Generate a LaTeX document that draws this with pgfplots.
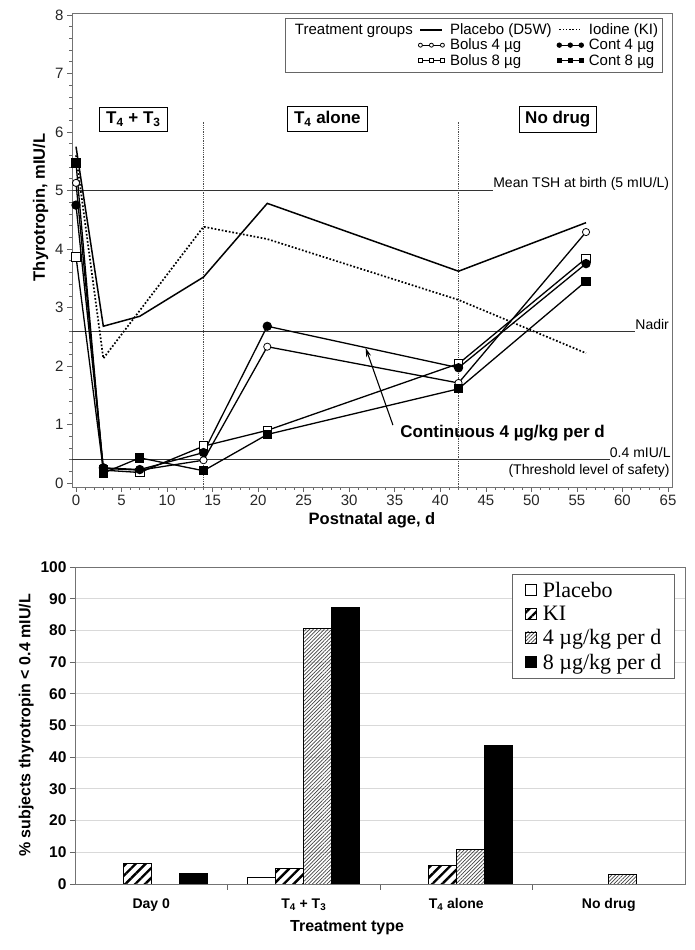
\documentclass[border=0pt]{standalone}
\usepackage{pgfplots}
\pgfplotsset{compat=1.18}
\usepackage{fontspec}
\setmainfont{Liberation Sans}
\newfontfamily\tnr{Liberation Serif}
\usetikzlibrary{patterns.meta,arrows.meta}

\newcommand{\fs}[2]{\fontsize{#1bp}{#2bp}\selectfont}
\newcommand{\Tsub}[1]{T\textsubscript{#1}}

\pgfplotsset{
  grp/.style={black, line width=1.3bp},
  bolusA/.style={grp, mark=*, mark size=3.6bp, mark options={fill=white, draw=black, line width=0.8bp}},
  contA/.style={grp, mark=*, mark size=4bp, mark options={fill=black}},
  bolusB/.style={grp, mark=square*, mark size=4.3bp, mark options={fill=white, draw=black, line width=0.8bp}},
  contB/.style={grp, mark=square*, mark size=4bp, mark options={fill=black}},
}

\begin{document}
\begin{tikzpicture}
\useasboundingbox (0,0) rectangle (695bp,950bp);

% ---- top panel: TSH over time
\begin{axis}[at={(72bp,463bp)}, anchor=south west, scale only axis,
  width=600bp, height=474bp,
  xmin=-0.44, xmax=65.44, ymin=-0.068, ymax=8.034,
  xtick={0,5,...,65}, ytick={0,1,...,8},
  minor x tick num=4, minor y tick num=4,
  tick align=outside, tick pos=left,
  major tick length=5bp, minor tick length=3bp,
  axis line style={black!55, line width=0.8bp},
  tick style={black!60, line width=0.6bp},
  /pgf/number format/assume math mode=true,
  tick label style={font=\fs{15}{18}, text=black!85},
  xlabel={Postnatal age, d}, ylabel={Thyrotropin, mIU/L},
  label style={font=\fs{16.5}{20}\bfseries},
  ylabel style={at={(ticklabel cs:0.59)}},
  clip=false,
  legend columns=3,
  legend style={at={(0.985,0.99)}, anchor=north east, draw=black!60, line width=0.6bp,
    font=\fs{15}{16}, row sep=1.8bp, column sep=5bp, inner xsep=4bp, inner ysep=5bp,
    nodes={inner sep=0.6bp}},
  legend cell align=left,
  legend image code/.code={\draw[#1, mark size=2bp] plot coordinates {(0bp,0bp) (11bp,0bp) (22bp,0bp)};},
]
% reference lines
\addplot[black!80, line width=0.8bp, forget plot] coordinates {(-0.44,5) (45.8,5)};
\addplot[black!80, line width=0.8bp, forget plot] coordinates {(-0.44,2.6) (61.4,2.6)};
\addplot[black!80, line width=0.8bp, forget plot] coordinates {(-0.44,0.4) (58.6,0.4)};
\addplot[black!70, densely dotted, line width=0.8bp, forget plot] coordinates {(14,-0.068) (14,6.19)};
\addplot[black!70, densely dotted, line width=0.8bp, forget plot] coordinates {(42,-0.068) (42,6.19)};

% series
\addplot[grp, line width=1.5bp, forget plot] coordinates {(0,5.75) (3,2.68) (7,2.85) (14,3.52) (21,4.78) (42,3.62) (56,4.45)};
\addplot[grp, line width=1.7bp, dash pattern=on 1.7bp off 1.9bp, forget plot] coordinates {(0,5.6) (3,2.13) (14,4.38) (21,4.17) (42,3.13) (56,2.22)};
\addplot[bolusA, forget plot] coordinates {(0,5.13) (3,0.25) (7,0.22) (14,0.39) (21,2.33) (42,1.71) (56,4.29)};
\addplot[bolusB, forget plot] coordinates {(0,3.87) (3,0.22) (7,0.18) (14,0.63) (21,0.9) (42,2.04) (56,3.84)};
\addplot[contA, forget plot] coordinates {(0,4.75) (3,0.26) (7,0.23) (14,0.52) (21,2.68) (42,1.97) (56,3.75)};
\addplot[contB, forget plot] coordinates {(0,5.47) (3,0.17) (7,0.43) (14,0.21) (21,0.83) (42,1.61) (56,3.45)};

% legend
\addlegendimage{empty legend}\addlegendentry{Treatment groups}
\addlegendimage{grp, line width=1.5bp}\addlegendentry{Placebo (D5W)}
\addlegendimage{grp, dotted}\addlegendentry{Iodine (KI)}
\addlegendimage{empty legend}\addlegendentry{}
\addlegendimage{bolusA}\addlegendentry{Bolus 4 µg}
\addlegendimage{contA}\addlegendentry{Cont 4 µg}
\addlegendimage{empty legend}\addlegendentry{}
\addlegendimage{bolusB}\addlegendentry{Bolus 8 µg}
\addlegendimage{contB}\addlegendentry{Cont 8 µg}

% annotations
\node[font=\fs{14}{16}, anchor=base west, inner sep=0pt] at (axis cs:45.8,5.05) {Mean TSH at birth (5 mIU/L)};
\node[font=\fs{14}{16}, anchor=base west, inner sep=0pt] at (axis cs:61.4,2.63) {Nadir};
\node[font=\fs{14}{16}, anchor=base west, inner sep=0pt] at (axis cs:58.6,0.43) {0.4 mIU/L};
\node[font=\fs{14}{16}, anchor=north east, inner sep=0pt] at (axis cs:65.2,0.33) {(Threshold level of safety)};
\node[font=\fs{17}{20}\bfseries, draw=black, line width=0.8bp, inner xsep=7bp, inner ysep=5bp] at (axis cs:6.3,6.22) {\Tsub{4} + \Tsub{3}};
\node[font=\fs{17}{20}\bfseries, draw=black, line width=0.8bp, inner xsep=7bp, inner ysep=5bp] at (axis cs:27.6,6.22) {\Tsub{4} alone};
\node[font=\fs{17}{20}\bfseries, draw=black, line width=0.8bp, inner xsep=6bp, inner ysep=5bp] at (axis cs:52.9,6.22) {No drug};
\node[font=\fs{17}{20}\bfseries, anchor=west, inner sep=0pt] at (axis cs:35.6,0.85) {Continuous 4 µg/kg per d};
\draw[-{Stealth[length=9bp,width=5bp]}, line width=1.1bp] (axis cs:34.8,0.99) -- (axis cs:31.8,2.31);
\end{axis}

% ---- bottom panel: % subjects below threshold
\begin{axis}[at={(75bp,66bp)}, anchor=south west, scale only axis,
  width=610bp, height=317bp,
  xmin=-0.5, xmax=3.5, ymin=0, ymax=100,
  ytick={0,10,...,100},
  xtick={0,1,2,3},
  xticklabels={Day 0, \Tsub{4} + \Tsub{3}, \Tsub{4} alone, No drug},
  minor xtick={0.5,1.5,2.5},
  major x tick style={draw=none},
  tick align=outside, tick pos=left,
  major tick length=5bp, minor tick length=6bp,
  axis line style={black!55, line width=0.8bp},
  tick style={black!60, line width=0.8bp},
  ymajorgrids, grid style={black!15, line width=0.8bp},
  /pgf/number format/assume math mode=true,
  yticklabel style={font=\fs{15.5}{18}\bfseries},
  xticklabel style={font=\fs{14}{17}\bfseries, yshift=-6bp},
  xlabel={Treatment type},
  ylabel={\% subjects thyrotropin < 0.4 mIU/L},
  label style={font=\fs{16}{19}\bfseries},
  xlabel style={at={(ticklabel cs:0.446)}, yshift=-2bp},
  legend style={at={(0.984,0.978)}, anchor=north east, draw=black!60, line width=0.8bp,
    font=\tnr\fs{22}{25}, row sep=4.5bp, inner xsep=12bp, inner ysep=6bp,
    nodes={inner sep=1.5bp},
    /tikz/every odd column/.style={column sep=5bp}},
  legend cell align=left,
  legend image code/.code={\draw[#1, line width=0.6bp] (0bp,-5bp) rectangle (11bp,6bp);},
]
\addplot[ybar, bar width=0.184, bar shift=-0.276, fill=white, draw=black, line width=0.8bp]
  coordinates {(1,2)};
\addplot[ybar, bar width=0.184, bar shift=-0.092, draw=black, line width=0.8bp,
  pattern={Lines[angle=45, distance=7bp, line width=2.4bp]}]
  coordinates {(0,6.6) (1,4.9) (2,5.9)};
\addplot[ybar, bar width=0.184, bar shift=0.092, draw=black, line width=0.8bp,
  pattern={Lines[angle=45, distance=2.6bp, line width=0.7bp]}, pattern color=black!75]
  coordinates {(1,80.5) (2,11) (3,3.1)};
\addplot[ybar, bar width=0.184, bar shift=0.276, fill=black, draw=black, line width=0.8bp]
  coordinates {(0,3.2) (1,87.3) (2,43.6)};
\legend{Placebo, KI, 4 µg/kg per d, 8 µg/kg per d}
\end{axis}
\end{tikzpicture}
\end{document}
